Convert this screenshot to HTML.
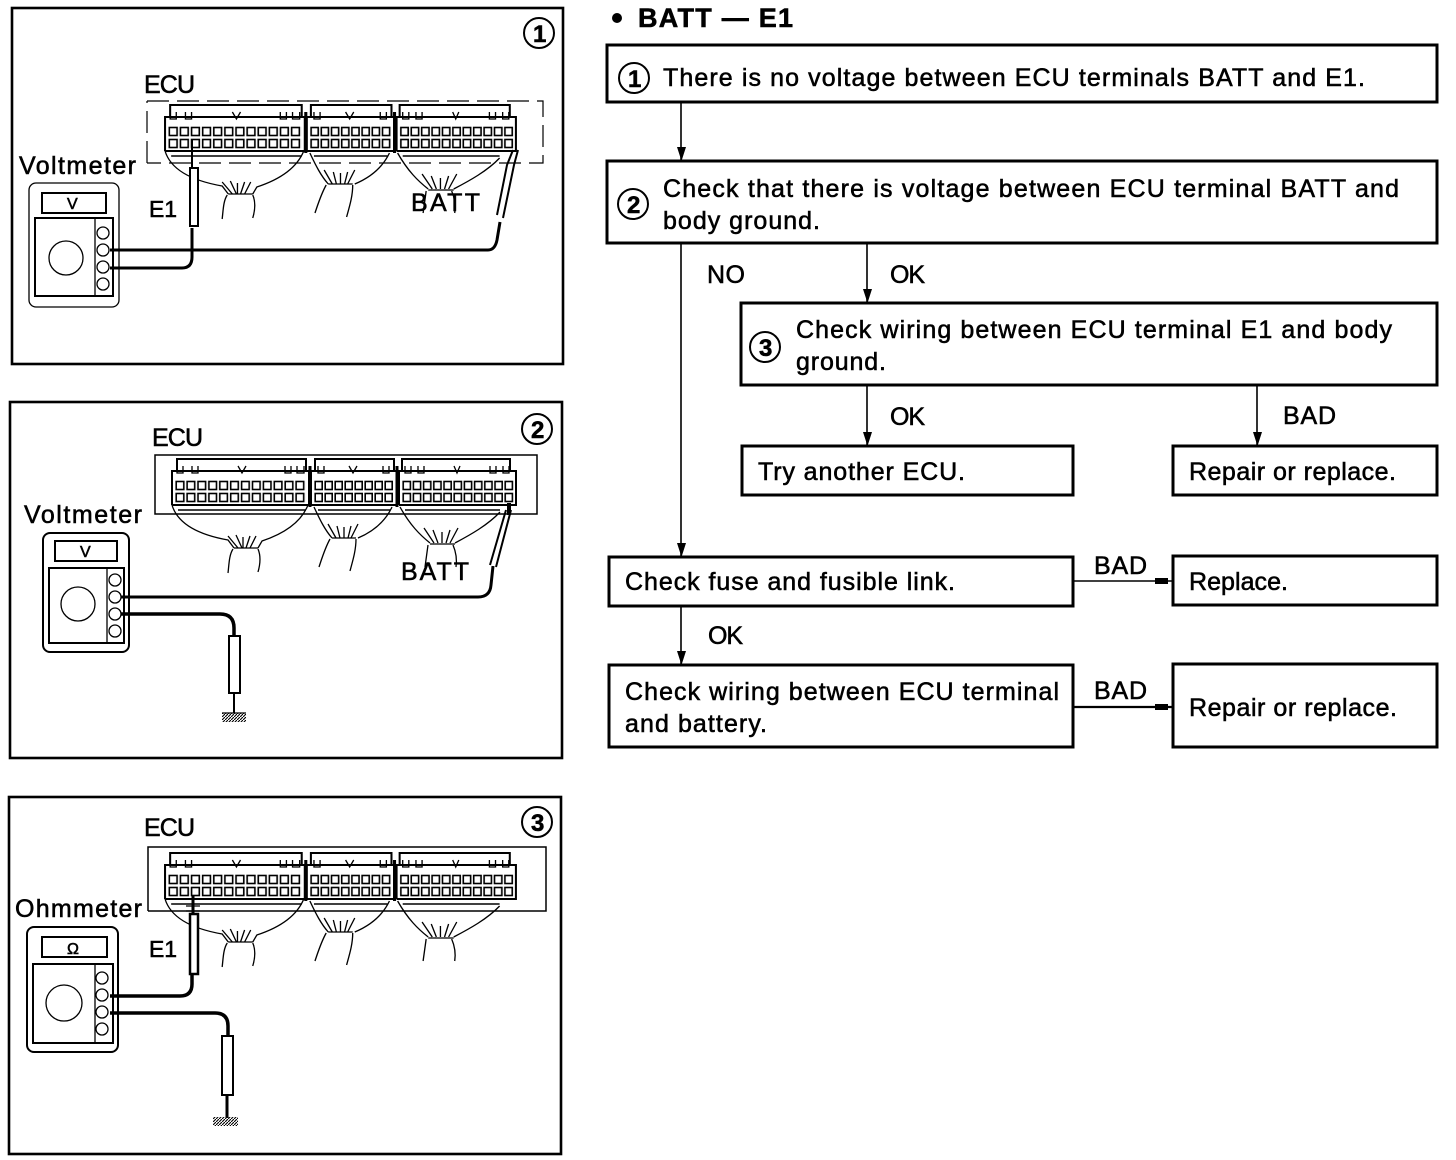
<!DOCTYPE html>
<html><head><meta charset="utf-8"><style>
html,body{margin:0;padding:0;background:#fff}
svg{display:block}
text{font-family:"Liberation Sans",sans-serif;font-size:25px;fill:#000;stroke:#000;stroke-width:.55}
.s{font-size:24px}
.e{font-size:23px}
.box{fill:#fff;stroke:#000;stroke-width:3}
.p{fill:none;stroke:#000;stroke-width:2.6}
.t{fill:none;stroke:#000;stroke-width:1.3}
.w{fill:none;stroke:#000;stroke-width:3}
.b{fill:none;stroke:#000;stroke-width:2}
</style></head><body>
<svg width="1456" height="1160" viewBox="0 0 1456 1160" xmlns="http://www.w3.org/2000/svg">
<defs>
<pattern id="p1" patternUnits="userSpaceOnUse" x="175" y="480" width="10.9" height="12"><rect x="1.2" y="1.5" width="7.6" height="8" fill="#fff" stroke="#000" stroke-width="1.6"/></pattern>
<pattern id="p2" patternUnits="userSpaceOnUse" x="314" y="480" width="10" height="12"><rect x="1.2" y="1.5" width="7" height="8" fill="#fff" stroke="#000" stroke-width="1.6"/></pattern>
<pattern id="p3" patternUnits="userSpaceOnUse" x="402" y="480" width="10.2" height="12"><rect x="1.2" y="1.5" width="7.2" height="8" fill="#fff" stroke="#000" stroke-width="1.6"/></pattern>
<g id="conn">
<g class="b">
<path d="M177 472V459H306V472M315 472V459H394V472M402 472V459H510V472"/>
<path d="M172 505V471H309V505H172M311 505V471H397V505H311M399 505V471H516V505H399"/>
</g>
<g class="t">
<path d="M177 466v7h6v-7M192 466v7h6v-7M238 466l4 7 4-7M285 466v7h6v-7M297 466v7h7v-7"/>
<path d="M318 466v7h6v-7M349 466l4 7 4-7M383 466v7h6v-7"/>
<path d="M405 466v7h6v-7M418 466v7h6v-7M454 466l3 7 3-7M490 466v7h6v-7M503 466v7h6v-7"/>
</g>
<rect x="175" y="480" width="131" height="24" fill="url(#p1)"/>
<rect x="314" y="480" width="80" height="24" fill="url(#p2)"/>
<rect x="402" y="480" width="112" height="24" fill="url(#p3)"/>
<path d="M178 510H306M318 510H390M405 510H500" fill="none" stroke="#000" stroke-width="1.5"/>
<path d="M310 466V507M397 466V507" stroke="#000" stroke-width="3"/>
<g class="t">
<path d="M172 505C178 525 200 535 228 540L234 548M308 505C300 525 280 535 262 541L258 548"/>
<path d="M234 548H258M233 549C229 555 229 565 228 573M258 549C261 556 260 565 258 572"/>
<path d="M228 536l10 12M236 535l6 13M243 537v11M250 536l-4 12M256 536l-6 12"/>
<path d="M314 507C320 520 325 530 332 538M392 507C385 522 372 532 358 538M332 538H356"/>
<path d="M330 539C325 548 322 558 319 567M356 539C356 550 353 560 350 571"/>
<path d="M328 524l8 14M337 526l3 12M344 527v11M351 526l-3 12M358 524l-7 14"/>
<path d="M400 507C410 525 420 535 430 543M500 512C488 525 470 535 455 543M430 544H455"/>
<path d="M428 545C427 552 426 560 425 567M453 545C456 552 457 560 456 567"/>
<path d="M424 528l10 15M433 530l5 13M442 532v11M450 530l-4 13M458 528l-8 15"/>
</g>
</g>
<g id="jacks"><circle cx="0" cy="0" r="6" class="t"/><circle cx="0" cy="17" r="6" class="t"/><circle cx="0" cy="34" r="6" class="t"/><circle cx="0" cy="51" r="6" class="t"/></g>
<pattern id="h" patternUnits="userSpaceOnUse" width="3" height="3"><path d="M0 3L3 0" stroke="#000" stroke-width="1.1"/></pattern>
</defs>

<!-- panel 1 -->
<rect x="12" y="8" width="551" height="356" class="p"/>
<circle cx="539" cy="33" r="15" class="t" style="stroke-width:2"/>
<text class="s" x="533" y="42" textLength="11" font-weight="bold">1</text>
<path d="M147 163V101M147 101H543V163H147" fill="none" stroke="#000" stroke-width="1.2" stroke-dasharray="22 8"/>
<use href="#conn" transform="matrix(1.02 0 0 1 -10.4 -354)"/>
<text x="144" y="93" textLength="51">ECU</text>
<text x="19" y="174" textLength="117">Voltmeter</text>
<text class="e" x="149" y="217" textLength="28">E1</text>
<text x="411" y="211" textLength="69">BATT</text>
<rect x="29" y="183" width="90" height="124" rx="7" class="t"/>
<rect x="42" y="193" width="64" height="20" class="b"/>
<text x="67" y="209" textLength="12" style="font-size:16px">V</text>
<rect x="35" y="218" width="78" height="78" class="b"/>
<path d="M95 218V296" class="t"/>
<circle cx="66" cy="258" r="17" class="t"/>
<use href="#jacks" x="103" y="233"/>
<path d="M110 250H488Q495 250 497 240L500 222" class="w"/>
<path d="M110 268H182Q192 268 192 257V228" class="w"/>
<path d="M190 168H198V226H190Z" fill="#fff" stroke="#000" stroke-width="2"/>
<path d="M192 168V140" class="t" style="stroke-width:2"/>
<path d="M497 215L507 165L513 150M503 218L514 165L518 150" class="t" style="stroke-width:2"/>

<!-- panel 2 -->
<rect x="10" y="402" width="552" height="356" class="p"/>
<circle cx="537" cy="429" r="15" class="t" style="stroke-width:2"/>
<text class="s" x="531" y="438" textLength="13" font-weight="bold">2</text>
<rect x="155" y="455" width="382" height="59" fill="none" stroke="#000" stroke-width="1.5"/>
<use href="#conn"/>
<text x="152" y="446" textLength="51">ECU</text>
<text x="24" y="523" textLength="118">Voltmeter</text>
<text x="401" y="580" textLength="68">BATT</text>
<rect x="43" y="533" width="86" height="119" rx="7" class="t" style="stroke-width:2"/>
<rect x="55" y="541" width="62" height="20" class="b"/>
<text x="80" y="557" textLength="11" style="font-size:16px">V</text>
<rect x="49" y="568" width="75" height="75" class="b"/>
<path d="M107 568V643" class="t"/>
<circle cx="78" cy="604" r="17" class="t"/>
<use href="#jacks" x="115" y="580"/>
<path d="M121 597H478Q490 597 491 585L493 566" class="w"/>
<path d="M121 614H220Q234 614 234 628V636" class="w" style="stroke-width:3.5"/>
<rect x="229" y="636" width="11" height="57" fill="#fff" stroke="#000" stroke-width="2"/>
<path d="M234 693V713" class="w" style="stroke-width:2"/>
<rect x="222" y="713" width="24" height="9" fill="url(#h)"/><path d="M222 713H246" class="t"/>
<path d="M490 565L506 510M496 567L511 510" class="t" style="stroke-width:2"/>
<path d="M509 503V515" class="w" style="stroke-width:4"/>

<!-- panel 3 -->
<rect x="9" y="797" width="552" height="357" class="p"/>
<circle cx="537" cy="822" r="15" class="t" style="stroke-width:2"/>
<text class="s" x="531" y="831" textLength="13" font-weight="bold">3</text>
<path d="M148 911V847H546V911H148" fill="none" stroke="#000" stroke-width="1.5"/>
<use href="#conn" transform="matrix(1.02 0 0 1 -10.4 394)"/>
<text x="144" y="836" textLength="51">ECU</text>
<text x="15" y="917" textLength="127">Ohmmeter</text>
<text class="e" x="149" y="957" textLength="28">E1</text>
<rect x="27" y="927" width="91" height="125" rx="7" class="t" style="stroke-width:2"/>
<rect x="42" y="937" width="65" height="20" class="b"/>
<text x="67" y="954" textLength="14" style="font-size:16px">Ω</text>
<rect x="33" y="964" width="80" height="79" class="b"/>
<path d="M95 964V1043" class="t"/>
<circle cx="64" cy="1003" r="18" class="t"/>
<use href="#jacks" x="102" y="978"/>
<path d="M110 996H180Q192 996 192 984V974" class="w" style="stroke-width:3.5"/>
<path d="M110 1013H215Q228 1013 228 1026V1036" class="w" style="stroke-width:3.5"/>
<rect x="190" y="914" width="8" height="60" fill="#fff" stroke="#000" stroke-width="2.5"/>
<path d="M193 914V896" class="w"/>
<path d="M186 906H200M186 911H200" class="t"/>
<rect x="222" y="1036" width="11" height="59" fill="#fff" stroke="#000" stroke-width="2"/>
<path d="M227 1095V1118" class="w" style="stroke-width:3"/>
<rect x="213" y="1117" width="25" height="9" fill="url(#h)"/>

<!-- flowchart -->
<circle cx="617" cy="18" r="5"/>
<text x="638" y="27" textLength="155" font-weight="bold" style="font-size:27px">BATT — E1</text>

<g fill="none" stroke="#000" stroke-width="1.6">
<path d="M681 102V161M681 243V557M867 243V303M867 385V446M1257 385V446M681 606V665M1073 581H1173"/>
<path d="M1073 707H1173" stroke-width="2.2"/>
</g>
<path d="M677 147H686L681.5 161ZM677 543H686L681.5 557ZM863 289H872L867.5 303ZM863 432H872L867.5 446ZM1253 432H1262L1257.5 446ZM677 651H686L681.5 665ZM1155 578V584H1168V578ZM1155 704V710H1168V704Z" fill="#000"/>

<rect x="607" y="45" width="830" height="57" class="box"/>
<rect x="607" y="161" width="830" height="82" class="box"/>
<rect x="741" y="303" width="696" height="82" class="box"/>
<rect x="742" y="446" width="331" height="49" class="box"/>
<rect x="1173" y="446" width="264" height="49" class="box"/>
<rect x="609" y="557" width="464" height="49" class="box"/>
<rect x="1173" y="556" width="264" height="49" class="box"/>
<rect x="609" y="665" width="464" height="82" class="box"/>
<rect x="1173" y="664" width="264" height="83" class="box"/>

<circle cx="634" cy="78" r="15" class="t" style="stroke-width:2"/>
<text class="s" x="628" y="87" textLength="11" font-weight="bold">1</text>
<circle cx="633" cy="204" r="15" class="t" style="stroke-width:2"/>
<text class="s" x="627" y="213" textLength="13" font-weight="bold">2</text>
<circle cx="765" cy="347" r="15" class="t" style="stroke-width:2"/>
<text class="s" x="759" y="356" textLength="13" font-weight="bold">3</text>

<text x="663" y="86" textLength="702">There is no voltage between ECU terminals BATT and E1.</text>
<text x="663" y="197" textLength="736">Check that there is voltage between ECU terminal BATT and</text>
<text x="663" y="229" textLength="157">body ground.</text>
<text x="796" y="338" textLength="596">Check wiring between ECU terminal E1 and body</text>
<text x="796" y="370" textLength="90">ground.</text>
<text x="758" y="480" textLength="207">Try another ECU.</text>
<text x="1189" y="480" textLength="207">Repair or replace.</text>
<text x="625" y="590" textLength="330">Check fuse and fusible link.</text>
<text x="1189" y="590" textLength="99">Replace.</text>
<text x="625" y="700" textLength="434">Check wiring between ECU terminal</text>
<text x="625" y="732" textLength="142">and battery.</text>
<text x="1189" y="716" textLength="208">Repair or replace.</text>

<text x="707" y="283" textLength="38">NO</text>
<text x="890" y="283" textLength="35">OK</text>
<text x="890" y="425" textLength="35">OK</text>
<text x="1283" y="424" textLength="53">BAD</text>
<text x="1094" y="574" textLength="53">BAD</text>
<text x="708" y="644" textLength="35">OK</text>
<text x="1094" y="699" textLength="53">BAD</text>
</svg>
</body></html>
